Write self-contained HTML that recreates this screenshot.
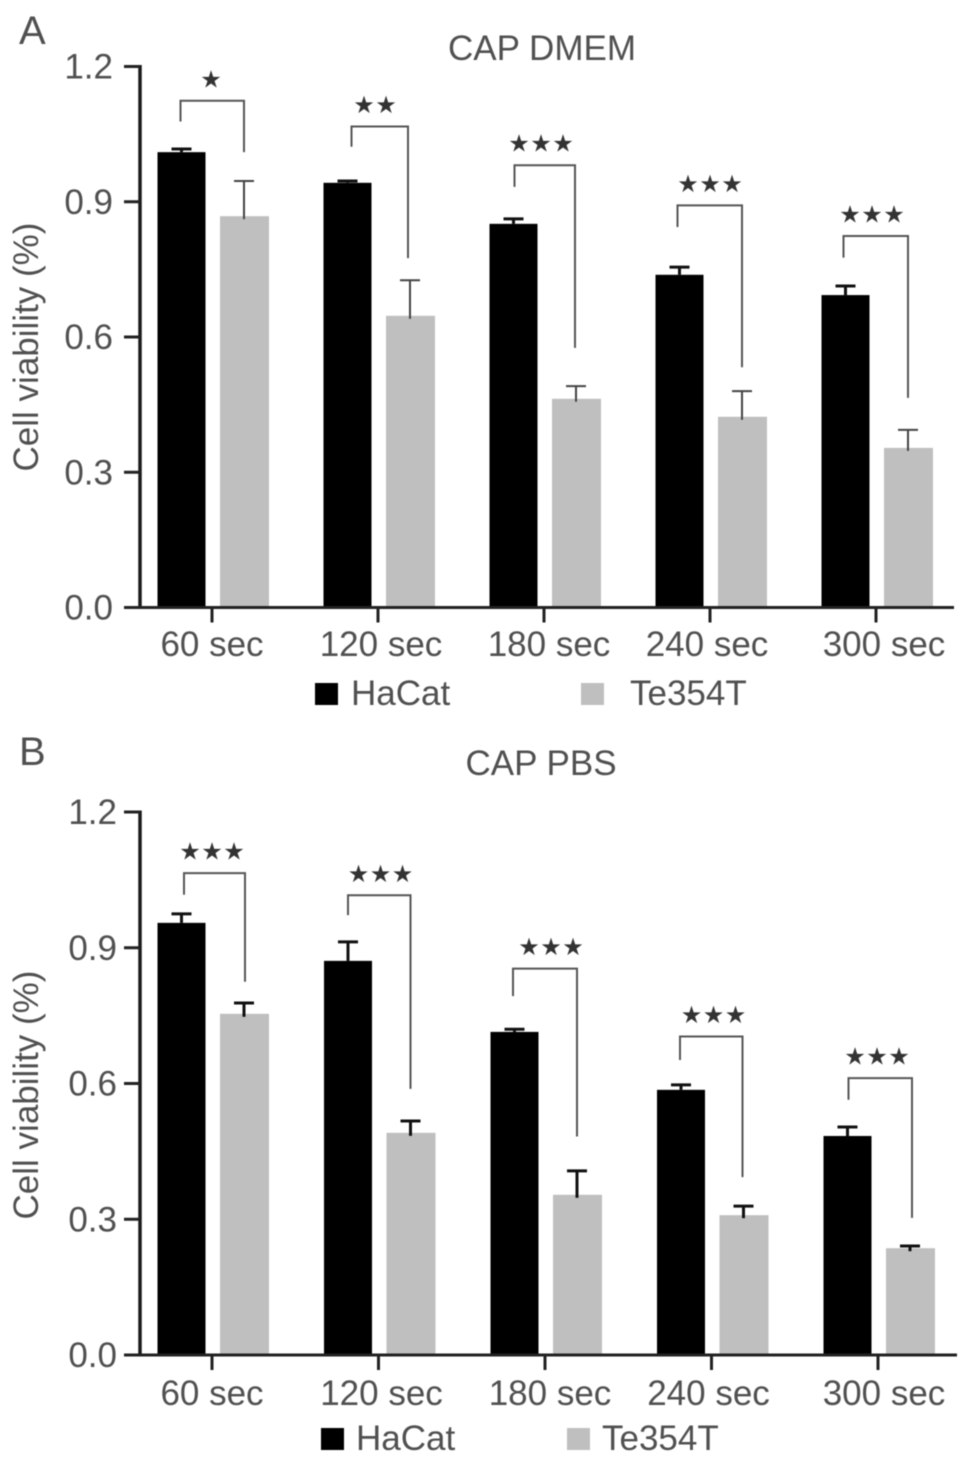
<!DOCTYPE html>
<html lang="en">
<head>
<meta charset="utf-8">
<title>Cell viability charts</title>
<style>
html,body{margin:0;padding:0;background:#fff;width:969px;height:1465px;overflow:hidden}
svg{display:block;filter:blur(0.55px)}
text{font-family:"Liberation Sans",sans-serif;fill:#505050}
</style>
</head>
<body>
<svg id="figure" xmlns="http://www.w3.org/2000/svg" width="969" height="1465" viewBox="0 0 969 1465"></svg>
<script>
const categories = ['60 sec', '120 sec', '180 sec', '240 sec', '300 sec'];
const yTicks = [0, 0.3, 0.6, 0.9, 1.2];
const seriesNames = ['HaCat', 'Te354T'];

const dmemHaCat = [1.010, 0.942, 0.851, 0.738, 0.693];
const dmemHaCatErr = [0.007, 0.004, 0.011, 0.017, 0.020];
const dmemTe354T = [0.868, 0.647, 0.463, 0.423, 0.354];
const dmemTe354TErr = [0.078, 0.079, 0.028, 0.057, 0.040];
const dmemSig = ['*', '**', '***', '***', '***'];
const dmemBracketTop = [1.124, 1.067, 0.981, 0.892, 0.824];
const dmemBracketLeft = [1.078, 1.022, 0.933, 0.844, 0.776];
const dmemBracketRight = [1.010, 0.775, 0.576, 0.533, 0.465];

const pbsHaCat = [0.955, 0.871, 0.714, 0.586, 0.484];
const pbsHaCatErr = [0.020, 0.042, 0.006, 0.011, 0.020];
const pbsTe354T = [0.754, 0.491, 0.354, 0.309, 0.236];
const pbsTe354TErr = [0.024, 0.026, 0.053, 0.020, 0.005];
const pbsSig = ['***', '***', '***', '***', '***'];
const pbsBracketTop = [1.065, 1.016, 0.854, 0.704, 0.612];
const pbsBracketLeft = [1.017, 0.972, 0.793, 0.652, 0.564];
const pbsBracketRight = [0.825, 0.588, 0.483, 0.393, 0.303];

const svg = document.getElementById('figure');
const NS = 'http://www.w3.org/2000/svg';

function add(tag, attrs, text) {
  const el = document.createElementNS(NS, tag);
  for (const k in attrs) el.setAttribute(k, attrs[k]);
  if (text !== undefined) el.textContent = text;
  svg.appendChild(el);
  return el;
}

function drawPanel(p) {
  const yScale = v => p.y0 - v * (p.y0 - p.y12) / 1.2;
  const tickX = i => 212 + i * p.step;
  const barW = 48;
  const blackX = i => tickX(i) - 30.5;
  const grayX = i => tickX(i) + 32;
  const labelNudge = [0, 3, 5, -3, p.lastNudge];

  let el = add('text', {x: p.letterX, y: p.letterY, 'font-size': 40}, p.letter);
  
  

  el = add('text', {x: p.titleX, y: p.titleY, 'font-size': 35, 'text-anchor': 'middle'}, p.title);
  
  

  el = add('text', {transform: 'translate(38,' + p.yTitleY + ') rotate(-90)', 'font-size': 35, 'text-anchor': 'middle'}, 'Cell viability (%)');
  
  

  p.meansA.forEach((v, i) => {
    const top = yScale(v);
    const cx = blackX(i);
    el = add('line', {x1: cx, x2: cx, y1: top, y2: yScale(v + p.errA[i]), stroke: '#111', 'stroke-width': 3});
    
    
    el = add('line', {x1: cx - 10, x2: cx + 10, y1: yScale(v + p.errA[i]), y2: yScale(v + p.errA[i]), stroke: '#111', 'stroke-width': 3});
    
    
    el = add('rect', {x: cx - barW / 2, y: top, width: barW, height: p.y0 - top, fill: '#000'});
    
    
  });

  p.meansB.forEach((v, i) => {
    const top = yScale(v);
    const cx = grayX(i);
    el = add('rect', {x: cx - barW / 2, y: top, width: barW + 1, height: p.y0 - top, fill: '#bfbfbf'});
    
    
    el = add('line', {x1: cx, x2: cx, y1: top + 3, y2: yScale(v + p.errB[i]), stroke: p.errColor, 'stroke-width': p.errWidth});
    
    
    el = add('line', {x1: cx - 10, x2: cx + 10, y1: yScale(v + p.errB[i]), y2: yScale(v + p.errB[i]), stroke: p.errColor, 'stroke-width': p.errWidth});
    
    
  });

  p.sig.forEach((s, i) => {
    const lx = blackX(i) + 1 + p.leftNudge[i];
    const rx = grayX(i) + p.rightNudge[i];
    const d = 'M' + lx + ' ' + yScale(p.bLeft[i]) + 'V' + yScale(p.bTop[i]) + 'H' + rx + 'V' + yScale(p.bRight[i]);
    el = add('path', {d: d, fill: 'none', stroke: '#555', 'stroke-width': 2});
    
    
    el = add('text', {x: (blackX(i) + 1 + grayX(i)) / 2 + p.starNudge[i], y: yScale(p.bTop[i]) - 13.5, 'font-size': 24, 'text-anchor': 'middle', 'letter-spacing': 0.5,
      style: 'font-family:"DejaVu Sans",sans-serif;fill:#333'}, s.replace(/\*/g, '\u2605'));
    
    
  });

  el = add('line', {x1: 140, x2: 140, y1: p.y12 - 1.5, y2: p.y0, stroke: '#1a1a1a', 'stroke-width': 3.5});
  
  
  el = add('line', {x1: 124, x2: p.axisEnd, y1: p.y0, y2: p.y0, stroke: '#222', 'stroke-width': 3});
  
  

  yTicks.forEach(t => {
    const y = yScale(t);
    el = add('line', {x1: 124, x2: 140, y1: y, y2: y, stroke: '#222', 'stroke-width': 3});
    
    
    el = add('text', {x: p.yLabelRight, y: y + 12, 'font-size': 35, 'text-anchor': 'end'}, t.toFixed(1));
    
    
  });

  categories.forEach((c, i) => {
    el = add('line', {x1: tickX(i), x2: tickX(i), y1: p.y0, y2: p.y0 + 15, stroke: '#222', 'stroke-width': 3});
    
    
    el = add('text', {x: tickX(i) + labelNudge[i], y: p.y0 + p.xLabelDy, 'font-size': 35, 'text-anchor': 'middle'}, c);
    
    
  });

  el = add('rect', {x: p.legX[0], y: p.legY, width: 23, height: 22, fill: '#000'});
  
  
  el = add('text', {x: p.legX[1], y: p.legY + 22, 'font-size': 35}, seriesNames[0]);
  
  
  el = add('rect', {x: p.legX[2], y: p.legY, width: 23, height: 22, fill: '#bfbfbf'});
  
  
  el = add('text', {x: p.legX[3], y: p.legY + 22, 'font-size': 35}, seriesNames[1]);
  
  
}

drawPanel({
  letter: 'A', letterX: 19, letterY: 44, title: 'CAP DMEM', titleX: 542, titleY: 60, yTitleY: 347,
  y12: 66.5, y0: 607.5, step: 166, axisEnd: 954, yLabelRight: 113, lastNudge: 8, xLabelDy: 48.5,
  leftNudge: [-2, 3, 0, -3, -3], rightNudge: [0, -2, -1, 0, 0], starNudge: [-2, -4, -4, -1, -5],
  meansA: dmemHaCat, errA: dmemHaCatErr, meansB: dmemTe354T, errB: dmemTe354TErr,
  errColor: '#444', errWidth: 2, sig: dmemSig,
  bTop: dmemBracketTop, bLeft: dmemBracketLeft, bRight: dmemBracketRight,
  legX: [315, 351, 581, 630], legY: 683
});
drawPanel({
  letter: 'B', letterX: 19, letterY: 765, title: 'CAP PBS', titleX: 541, titleY: 775, yTitleY: 1095,
  y12: 812, y0: 1355, step: 166.5, axisEnd: 957, yLabelRight: 117, lastNudge: 6, xLabelDy: 50,
  leftNudge: [1.5, -1, -2.5, -2, 0], rightNudge: [1, 0, 0, -1, 2], starNudge: [-1, 1, 5, 1, -2],
  meansA: pbsHaCat, errA: pbsHaCatErr, meansB: pbsTe354T, errB: pbsTe354TErr,
  errColor: '#111', errWidth: 3, sig: pbsSig,
  bTop: pbsBracketTop, bLeft: pbsBracketLeft, bRight: pbsBracketRight,
  legX: [321, 356, 567, 602], legY: 1428
});
</script>
</body>
</html>
